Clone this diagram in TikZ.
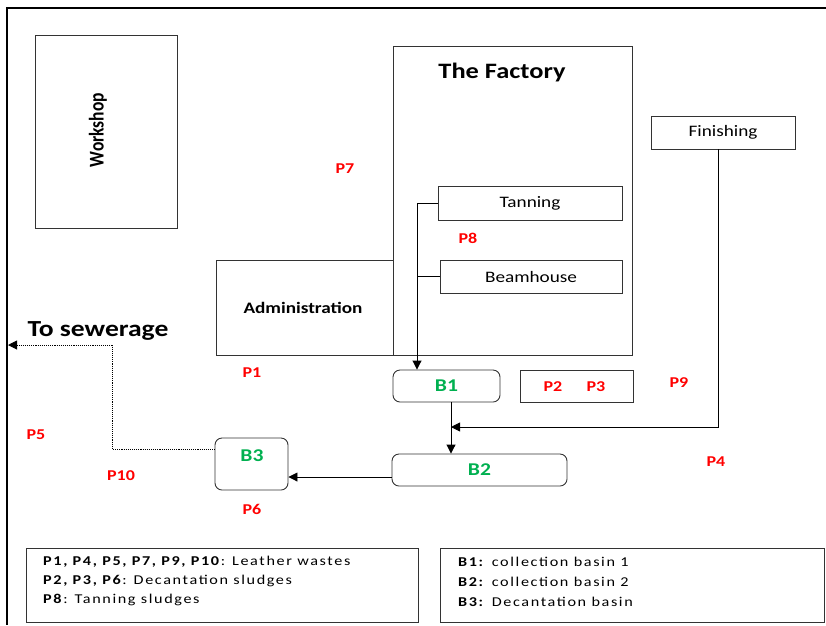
\documentclass[tikz,border=0pt]{standalone}
\usepackage{fontspec}
\setmainfont{Carlito}[FakeStretch=1.2]
\newfontfamily\plainfont{Carlito}
\usepackage{tikz}
\usetikzlibrary{arrows.meta}
\definecolor{pred}{RGB}{255,0,0}
\definecolor{bgreen}{RGB}{0,176,80}

\begin{document}
\begin{tikzpicture}[x=1pt,y=-1pt,
    box/.style={draw=black!80,line width=0.9pt,inner sep=0pt},
    basin/.style={box,rounded corners=7pt},
    plabel/.style={text=pred,font=\fontsize{15}{15}\selectfont\bfseries},
    blabel/.style={text=bgreen,font=\fontsize{18}{18}\selectfont\bfseries},
    lbl/.style={font=\fontsize{16}{16}\selectfont},
    legtext/.style={anchor=north west,align=left,inner sep=0pt,
        font=\fontsize{13.5}{19}\selectfont\addfontfeature{LetterSpace=12}},
    flow/.style={line width=0.9pt,->},
    >={Triangle[length=9pt,width=9pt]}]
\useasboundingbox (0,0) rectangle (826,625);

% outer frame
\draw[line width=1.5pt] (826,8) -- (7,8) -- (7,625);

% buildings
\node[box,minimum width=142,minimum height=193] (workshop) at (106,131.5) {};
\node[rotate=90,font=\plainfont\fontsize{17.5}{17.5}\selectfont\bfseries] at (98,130)
    {\scalebox{1}[1.2]{Workshop}};

\node[box,minimum width=239,minimum height=309] (factory) at (512.5,200.5) {};
\node[font=\fontsize{22}{22}\selectfont\bfseries] at (502,73) {The Factory};

\node[box,minimum width=177,minimum height=95] (admin) at (304.5,307.5) {};
\node[font=\fontsize{16}{16}\selectfont\bfseries] at (303,308) {Administration};

\node[box,lbl,minimum width=184,minimum height=34] (tanning) at (530,203) {Tanning};
\node[box,lbl,minimum width=182,minimum height=33] (beamhouse) at (531,276.5) {Beamhouse};
\node[box,lbl,minimum width=144,minimum height=33] (finishing) at (723,132.5) {Finishing};

% basins
\node[basin,blabel,minimum width=107,minimum height=32] (b1) at (446.5,386) {B1};
\node[box,minimum width=113,minimum height=32] (sludge) at (576.5,386) {};
\node[basin,blabel,minimum width=175,minimum height=32] (b2) at (479.5,470) {B2};
\node[basin,minimum width=73,minimum height=52] (b3) at (251.5,464) {};
\node[blabel] at (252,456) {B3};

% flows
\coordinate (tj) at (417,203);
\coordinate (fj) at (451,427);
\coordinate (sewer) at (8,345);
\draw[flow] (tanning.west) -- (tj) -- (tj |- b1.north);
\draw[line width=0.9pt] (beamhouse.west) -- (beamhouse.west -| tj);
\draw[flow] (fj |- b1.south) -- (fj |- b2.north);
\draw[flow] (finishing.south -| 718,0) |- (fj);
\draw[flow] (b2.west |- 0,477) -- (b3.east |- 0,477);
\draw[line width=0.9pt,densely dotted,->] (b3.west |- 0,449) -- (112,449) -- (112,345) -- (sewer);
\node[font=\fontsize{23}{23}\selectfont\bfseries] at (98,331) {To sewerage};

% points
\node[plabel] at (345,169) {P7};
\node[plabel] at (468,238) {P8};
\node[plabel] at (252,373) {P1};
\node[plabel] at (553,387) {P2};
\node[plabel] at (596,387) {P3};
\node[plabel] at (679,383) {P9};
\node[plabel] at (716,462) {P4};
\node[plabel] at (36,435) {P5};
\node[plabel] at (121,476) {P10};
\node[plabel] at (252,509) {P6};

% legend
\node[box,minimum width=392,minimum height=74] (leg1) at (222,585) {};
\node[legtext] at (43,556) {\textbf{P1, P4, P5, P7, P9, P10}: Leather wastes\\
    \textbf{P2, P3, P6}: Decantation sludges\\
    \textbf{P8}: Tanning sludges};
\node[box,minimum width=384,minimum height=74] (leg2) at (632,585) {};
\node[legtext,font=\fontsize{13.5}{20}\selectfont\addfontfeature{LetterSpace=12}] at (458,557) {\textbf{B1:} collection basin 1\\
    \textbf{B2:} collection basin 2\\
    \textbf{B3:} Decantation basin};
\end{tikzpicture}
\end{document}
